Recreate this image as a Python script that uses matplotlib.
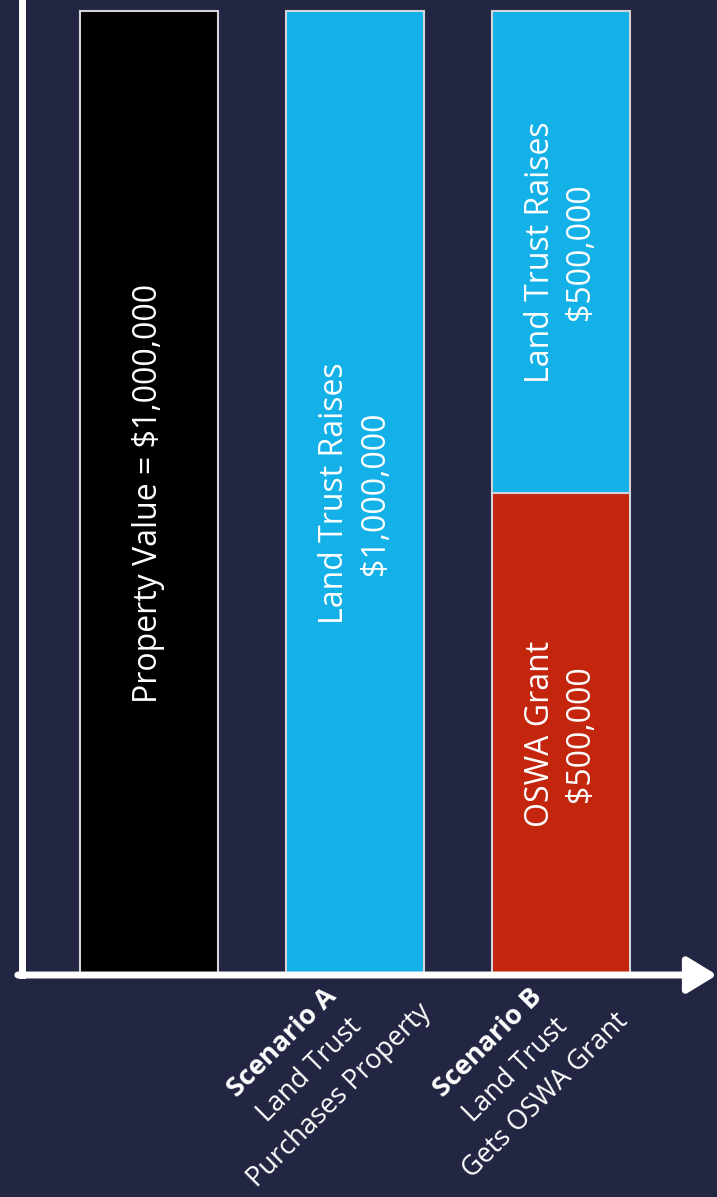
import matplotlib
matplotlib.use('Agg')
import matplotlib.pyplot as plt
from matplotlib.transforms import offset_copy

# chart values (in $ millions)
positions = [0, 1, 2]
property_value = [1.0, None, None]
scenario_a_raise = [None, 1.0, None]
oswa_grant = 0.5
scenario_b_raise = 0.5

bar_texts = ['Property Value = $1,000,000',
             'Land Trust Raises\n$1,000,000',
             'OSWA Grant\n$500,000',
             'Land Trust Raises\n$500,000']
tick_lines = [None,
              ['Scenario A', 'Land Trust', 'Purchases Property'],
              ['Scenario B', 'Land Trust', 'Gets OSWA Grant']]

bg = '#232643'
black = '#000000'
blue = '#13B1E8'
red = '#C3250D'
edge = '#D4D4D8'

plt.rcParams['font.family'] = ['Open Sans', 'DejaVu Sans']

fig = plt.figure(figsize=(7.17, 11.97), dpi=100, facecolor=bg)
ax = fig.add_axes([22 / 717, 1 - 975 / 1197, 1 - 22 / 717, 975 / 1197])
ax.set_facecolor(bg)

w = 0.67
ax.bar(positions[0], property_value[0], width=w, color=black, edgecolor=edge, linewidth=1.5, zorder=2)
ax.bar(positions[1], scenario_a_raise[1], width=w, color=blue, edgecolor=edge, linewidth=1.5, zorder=2)
ax.bar(positions[2], oswa_grant, width=w, color=red, edgecolor=edge, linewidth=1.5, zorder=2)
ax.bar(positions[2], scenario_b_raise, bottom=oswa_grant, width=w, color=blue, edgecolor=edge, linewidth=1.5, zorder=2)

ax.set_xlim(-0.617, 2.76)
ax.set_ylim(0, 1.0114)

# text inside bars
txt = dict(color='white', rotation=90, ha='center', va='center', fontsize=23,
           multialignment='center', linespacing=1.3, zorder=3)
ax.text(positions[0], property_value[0] / 2, bar_texts[0], **txt)
ax.text(positions[1], scenario_a_raise[1] / 2, bar_texts[1], **txt)
ax.text(positions[2], oswa_grant / 2, bar_texts[2], **txt)
ax.text(positions[2], oswa_grant + scenario_b_raise / 2, bar_texts[3], **txt)

# axes: white left spine, arrow along bottom
for s in ['top', 'right', 'bottom']:
    ax.spines[s].set_visible(False)
ax.spines['left'].set_color('white')
ax.spines['left'].set_linewidth(5)
ax.set_xticks([])
ax.set_yticks([])
ax.annotate('', xy=(1.0, 0), xytext=(-0.006, 0), xycoords='axes fraction',
            arrowprops=dict(arrowstyle='-|>,head_length=0.9,head_width=0.55',
                            color='white', lw=5, mutation_scale=20,
                            shrinkA=0, shrinkB=0),
            annotation_clip=False)

# rotated scenario labels, one line at a time
offsets = [(-72, -68), (-45, -95), (-15, -121)]
for pos, lines in zip(positions, tick_lines):
    if lines is None:
        continue
    for i, line in enumerate(lines):
        dx, dy = offsets[i]
        tr = offset_copy(ax.transData, fig=fig, x=dx, y=dy, units='dots')
        ax.text(pos, 0, line, transform=tr, rotation=45, ha='center', va='center',
                fontsize=19.5, color='white', fontweight='bold' if i == 0 else 'normal',
                rotation_mode='anchor', clip_on=False)

fig.savefig('out.png', dpi=100, facecolor=bg)
